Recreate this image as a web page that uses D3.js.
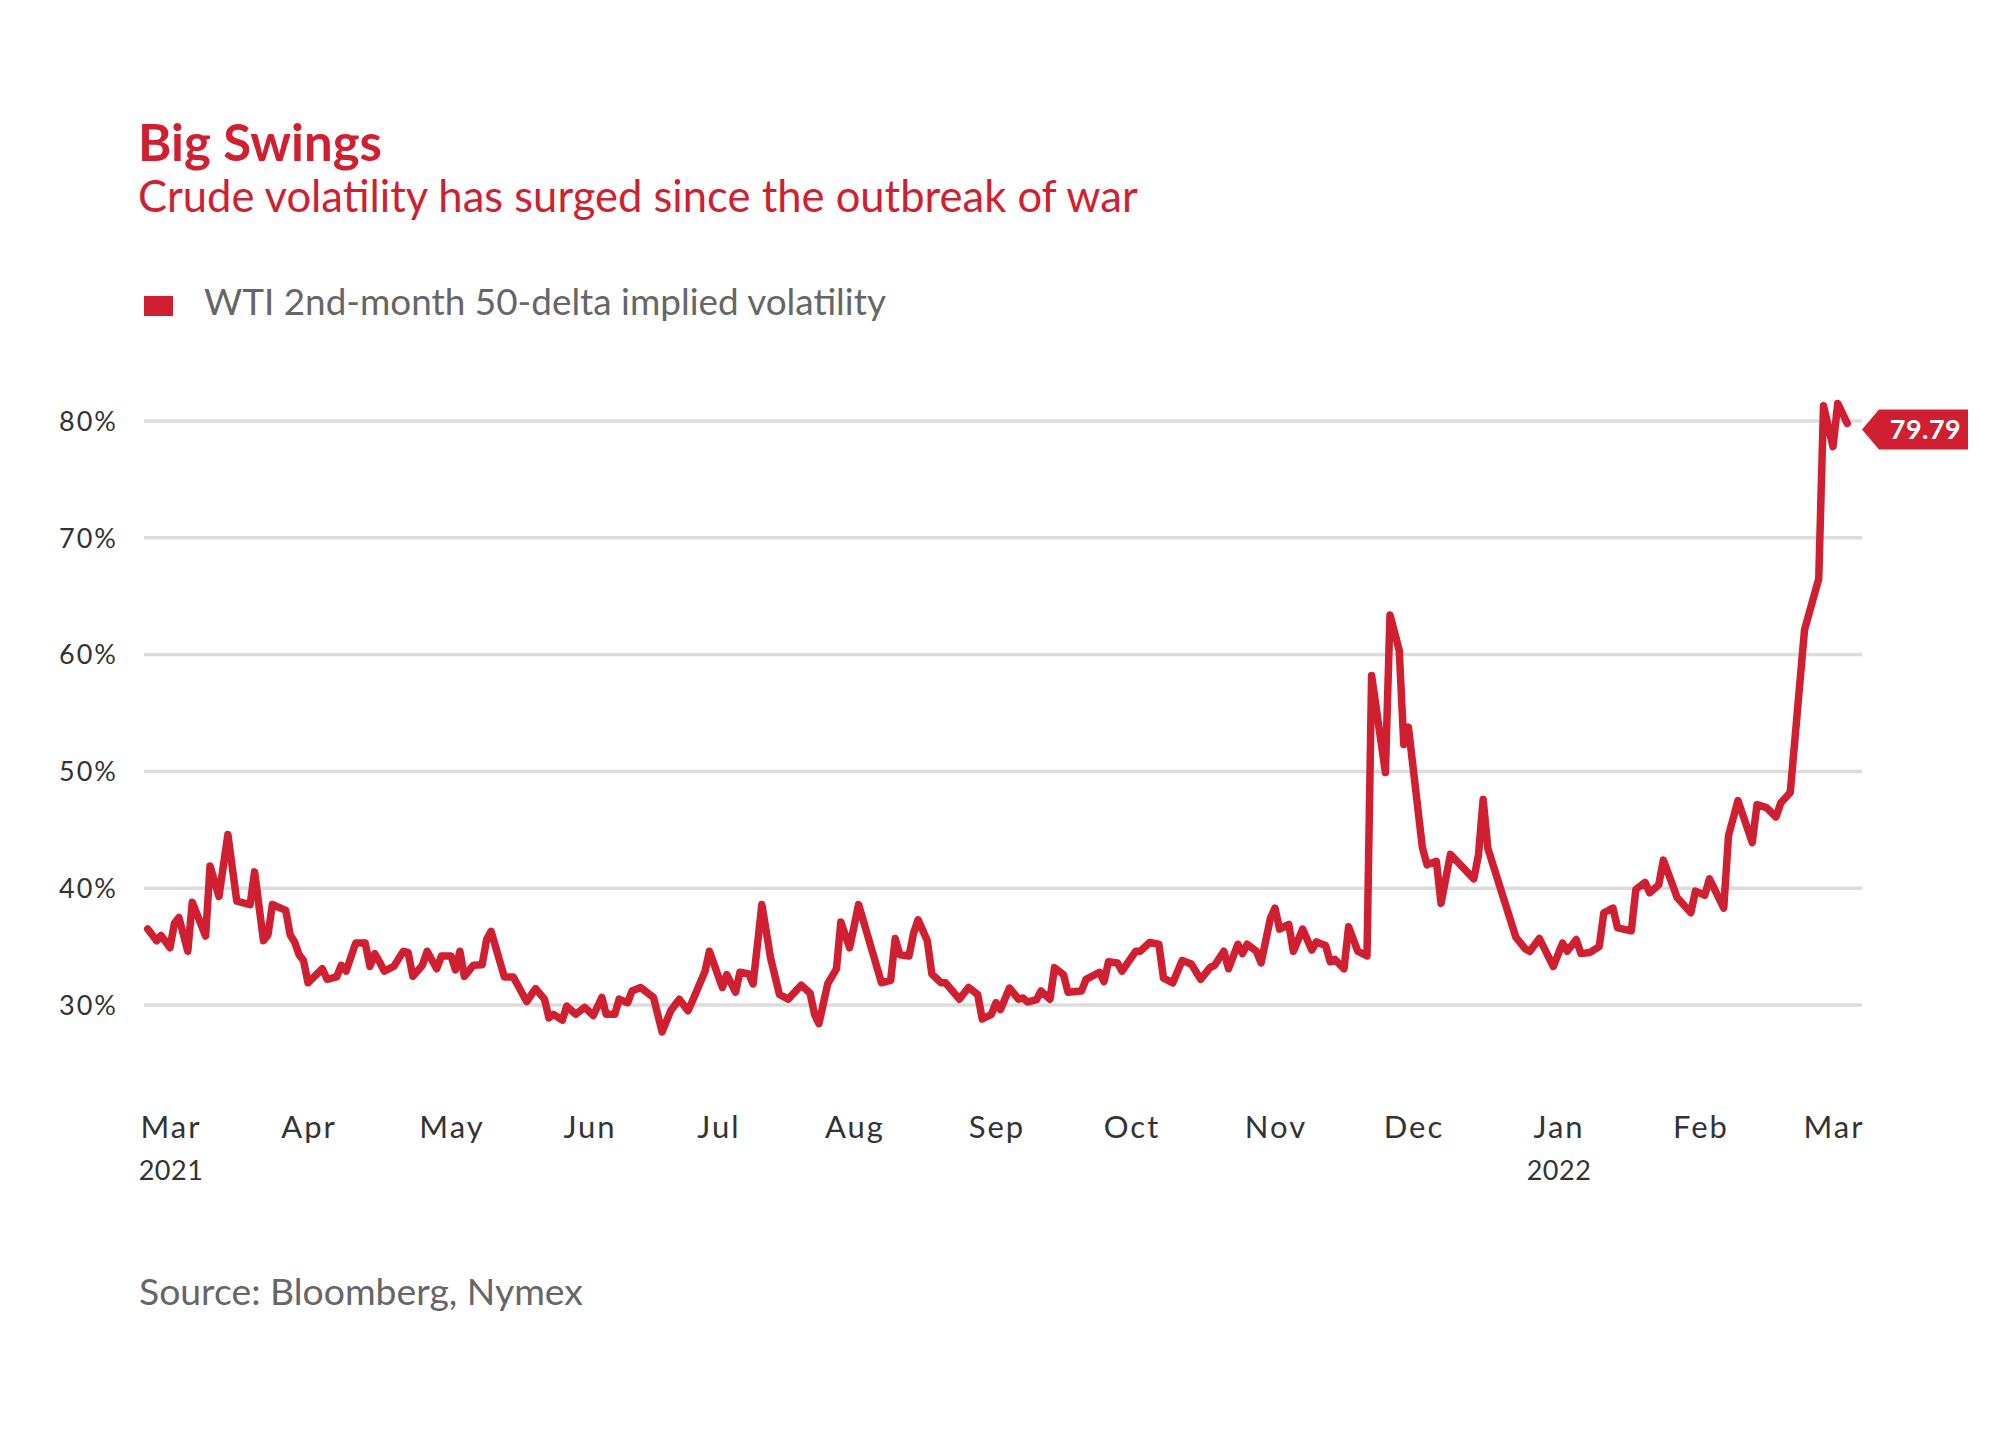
<!DOCTYPE html>
<html><head><meta charset="utf-8">
<script src="https://cdn.jsdelivr.net/npm/d3@7"></script>
<style>
body{margin:0;background:#fff;}
svg{display:block;font-family:Lato,'Open Sans',sans-serif;}
</style></head><body>
<svg id="chart" width="2000" height="1431"></svg>
<script>
const titleText = "Big Swings";
const subtitleText = "Crude volatility has surged since the outbreak of war";
const legendText = "WTI 2nd-month 50-delta implied volatility";
const sourceText = "Source: Bloomberg, Nymex";

const dates = [
"2021-02-24","2021-02-26","2021-02-27","2021-03-01","2021-03-02","2021-03-03","2021-03-05","2021-03-06","2021-03-09","2021-03-10",
"2021-03-12","2021-03-14","2021-03-16","2021-03-19","2021-03-20","2021-03-22","2021-03-23","2021-03-24","2021-03-27","2021-03-28",
"2021-03-29","2021-03-30","2021-03-31","2021-04-01","2021-04-04","2021-04-05","2021-04-07","2021-04-08","2021-04-09","2021-04-11",
"2021-04-13","2021-04-14","2021-04-15","2021-04-16","2021-04-17","2021-04-19","2021-04-21","2021-04-22","2021-04-23","2021-04-25",
"2021-04-26","2021-04-28","2021-04-29","2021-05-01","2021-05-02","2021-05-03","2021-05-04","2021-05-06","2021-05-08","2021-05-09",
"2021-05-10","2021-05-13","2021-05-15","2021-05-18","2021-05-20","2021-05-22","2021-05-23","2021-05-24","2021-05-26","2021-05-27",
"2021-05-29","2021-05-31","2021-06-02","2021-06-04","2021-06-05","2021-06-07","2021-06-08","2021-06-10","2021-06-11","2021-06-13",
"2021-06-16","2021-06-18","2021-06-20","2021-06-22","2021-06-24","2021-06-25","2021-06-28","2021-06-29","2021-07-02","2021-07-03",
"2021-07-05","2021-07-06","2021-07-08","2021-07-09","2021-07-11","2021-07-13","2021-07-15","2021-07-17","2021-07-20","2021-07-22",
"2021-07-23","2021-07-24","2021-07-26","2021-07-28","2021-07-29","2021-07-31","2021-08-02","2021-08-07","2021-08-09","2021-08-10",
"2021-08-11","2021-08-13","2021-08-14","2021-08-15","2021-08-17","2021-08-18","2021-08-20","2021-08-21","2021-08-24","2021-08-26",
"2021-08-28","2021-08-29","2021-08-31","2021-09-01","2021-09-02","2021-09-04","2021-09-06","2021-09-07","2021-09-08","2021-09-10",
"2021-09-11","2021-09-13","2021-09-14","2021-09-16","2021-09-17","2021-09-20","2021-09-21","2021-09-24","2021-09-25","2021-09-26",
"2021-09-28","2021-09-29","2021-10-02","2021-10-03","2021-10-05","2021-10-07","2021-10-08","2021-10-10","2021-10-12","2021-10-14",
"2021-10-16","2021-10-18","2021-10-19","2021-10-21","2021-10-22","2021-10-24","2021-10-25","2021-10-26","2021-10-28","2021-10-29",
"2021-10-31","2021-11-01","2021-11-02","2021-11-04","2021-11-05","2021-11-07","2021-11-09","2021-11-10","2021-11-12","2021-11-13",
"2021-11-14","2021-11-16","2021-11-17","2021-11-19","2021-11-21","2021-11-22","2021-11-25","2021-11-26","2021-11-28","2021-11-29",
"2021-11-30","2021-12-03","2021-12-04","2021-12-06","2021-12-07","2021-12-09","2021-12-14","2021-12-15","2021-12-16","2021-12-17",
"2021-12-23","2021-12-25","2021-12-26","2021-12-28","2021-12-31","2022-01-02","2022-01-03","2022-01-05","2022-01-06","2022-01-08",
"2022-01-10","2022-01-11","2022-01-13","2022-01-14","2022-01-17","2022-01-18","2022-01-20","2022-01-21","2022-01-23","2022-01-24",
"2022-01-26","2022-01-27","2022-01-30","2022-01-31","2022-02-02","2022-02-03","2022-02-06","2022-02-07","2022-02-09","2022-02-12",
"2022-02-13","2022-02-15","2022-02-17","2022-02-18","2022-02-20","2022-02-23","2022-02-26","2022-02-27","2022-03-01","2022-03-02",
"2022-03-04"
];
const values = [
36.5,35.5,35.95,34.9,37.0,37.5,34.6,38.8,35.9,41.9,
39.3,44.6,38.9,38.6,41.4,35.5,36.0,38.6,38.1,36.0,
35.4,34.3,33.8,31.9,33.1,32.2,32.4,33.4,32.9,35.3,
35.3,33.3,34.4,33.7,32.9,33.3,34.6,34.5,32.45,33.4,
34.6,33.1,34.2,34.2,33.0,34.6,32.45,33.4,33.45,35.6,
36.3,32.4,32.4,30.3,31.4,30.5,28.9,29.2,28.7,29.9,
29.2,29.8,29.1,30.65,29.2,29.2,30.5,30.2,31.2,31.5,
30.65,27.7,29.5,30.5,29.5,30.3,32.9,34.6,31.5,32.6,
31.1,32.8,32.65,31.8,38.6,34.0,30.9,30.5,31.7,31.0,
29.2,28.4,31.8,33.1,37.1,34.9,38.6,31.9,32.1,35.7,
34.3,34.2,36.15,37.3,35.5,32.65,31.9,31.9,30.5,31.5,
30.9,28.8,29.2,30.2,29.6,31.45,30.5,30.6,30.25,30.45,
31.2,30.5,33.2,32.6,31.1,31.2,32.2,32.8,32.0,33.7,
33.6,32.9,34.6,34.6,35.35,35.2,32.3,31.9,33.8,33.5,
32.2,33.2,33.4,34.6,33.1,35.2,34.4,35.2,34.6,33.6,
37.4,38.3,36.5,36.9,34.6,36.5,34.7,35.4,35.1,33.7,
33.9,33.1,36.7,34.6,34.2,58.2,49.9,63.4,60.4,52.3,
53.8,43.5,42.0,42.3,38.7,42.9,40.8,42.85,47.6,43.4,
35.8,34.8,34.6,35.7,33.3,35.3,34.6,35.6,34.4,34.5,
35.0,37.9,38.3,36.6,36.35,39.9,40.5,39.6,40.3,42.4,
40.3,39.2,37.9,39.75,39.4,40.8,38.3,44.5,47.5,43.9,
47.15,46.9,46.1,47.3,48.2,62.1,66.5,81.3,77.8,81.5,
79.79
];
const yTicks = [30, 40, 50, 60, 70, 80];
const monthTicks = ["2021-03-01","2021-04-01","2021-05-01","2021-06-01","2021-07-01","2021-08-01","2021-09-01",
                    "2021-10-01","2021-11-01","2021-12-01","2022-01-01","2022-02-01","2022-03-01"];
const yearTicks = ["2021-03-01","2022-01-01"];

// ---- layout ----
const RED = "#d01f31";
const xRange = [170, 308, 451, 589, 718, 854, 996, 1131, 1275, 1413, 1558, 1700, 1833];
const parse = d3.timeParse("%Y-%m-%d");
const data = dates.map((d, i) => ({date: parse(d), v: values[i]}));

const svg = d3.select("#chart");
const x = d3.scaleTime().domain(monthTicks.map(parse)).range(xRange);
const y = d3.scaleLinear().domain([30, 80]).range([1005, 421]);

function fit(sel, target) {
  sel.style("font-size", "100px");
  const w = sel.node().getComputedTextLength();
  sel.style("font-size", (100 * target / w) + "px");
}

// title block
fit(svg.append("text").attr("x", 138).attr("y", 161).attr("fill", RED)
   .attr("font-weight", 700).text(titleText), 244);
fit(svg.append("text").attr("x", 138).attr("y", 212).attr("fill", RED)
   .text(subtitleText), 1000);

// legend
svg.append("rect").attr("x", 144).attr("y", 296).attr("width", 29).attr("height", 20).attr("fill", RED);
fit(svg.append("text").attr("x", 204).attr("y", 315).attr("fill", "#666")
   .text(legendText), 682);

// grid
svg.append("g").selectAll("line").data(yTicks).join("line")
  .attr("x1", 144).attr("x2", 1862)
  .attr("y1", d => y(d)).attr("y2", d => y(d))
  .attr("stroke", "#dcdcdc").attr("stroke-width", 3.5);

// y axis labels
svg.append("g").selectAll("text").data(yTicks).join("text")
  .attr("x", 118).attr("y", d => y(d)).attr("dy", "0.36em")
  .attr("text-anchor", "end").attr("fill", "#333")
  .style("font-size", "27px").style("letter-spacing", "2px")
  .text(d => d + "%");

// x axis labels
svg.append("g").selectAll("text").data(monthTicks).join("text")
  .attr("x", d => x(parse(d)) + 1).attr("y", 1138)
  .attr("text-anchor", "middle").attr("fill", "#333")
  .style("font-size", "31px").style("letter-spacing", "2px")
  .text(d => d3.timeFormat("%b")(parse(d)));
svg.append("g").selectAll("text").data(yearTicks).join("text")
  .attr("x", d => x(parse(d)) + 1).attr("y", 1180)
  .attr("text-anchor", "middle").attr("fill", "#333")
  .style("font-size", "27px").style("letter-spacing", "0.5px")
  .text(d => d3.timeFormat("%Y")(parse(d)));

// line
const line = d3.line().x(d => x(d.date)).y(d => y(d.v));
svg.append("path").datum(data).attr("d", line)
  .attr("fill", "none").attr("stroke", RED).attr("stroke-width", 7.5)
  .attr("stroke-linejoin", "round").attr("stroke-linecap", "round");

// end tag
const last = data[data.length - 1];
const yc = y(last.v) + 6;
const tip = 1862, left = 1879, right = 1968, h = 20;
svg.append("path")
  .attr("d", `M${tip},${yc}L${left},${yc - h}L${right},${yc - h}L${right},${yc + h}L${left},${yc + h}Z`)
  .attr("fill", RED);
svg.append("text").attr("x", (left + right) / 2 + 2).attr("y", yc + 9.5)
  .attr("text-anchor", "middle").attr("fill", "#fff").attr("font-weight", 700)
  .style("font-size", "27px").style("letter-spacing", "0.5px")
  .text(d3.format(".2f")(last.v));

// source
fit(svg.append("text").attr("x", 139).attr("y", 1305).attr("fill", "#666")
   .text(sourceText), 444);
</script>
</body></html>
